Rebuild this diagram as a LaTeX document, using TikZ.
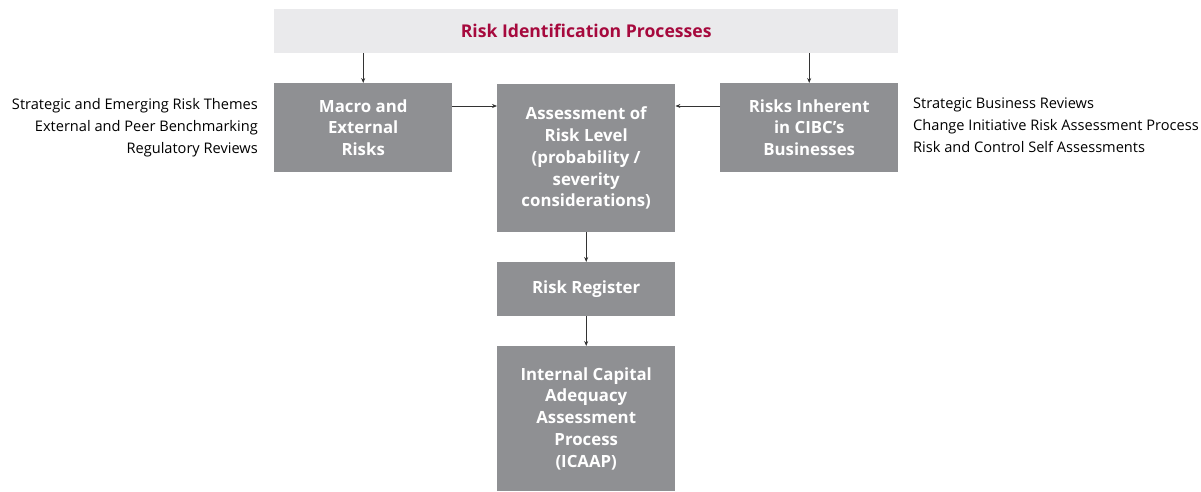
\documentclass[tikz,border=0pt]{standalone}
\usepackage{fontspec}
\setmainfont{Open Sans}
\usetikzlibrary{arrows.meta}
\definecolor{boxgray}{HTML}{8F9093}
\definecolor{bandgray}{HTML}{EAEAEC}
\definecolor{cibcred}{HTML}{A6093D}
\definecolor{linegray}{HTML}{333333}
\begin{document}
\begin{tikzpicture}[x=1pt,y=-1pt,
  box/.style={fill=boxgray,draw=none,text=white,font=\fontsize{16.8}{21.8}\selectfont\bfseries,align=center,inner sep=0pt,anchor=north west},
  side/.style={font=\fontsize{14.6}{22}\selectfont,text=black,inner sep=0pt},
  conn/.style={draw=linegray,line width=0.7pt,-{Stealth[length=5pt,width=4pt]}}]
\useasboundingbox (0,0) rectangle (1201,492);
\node[anchor=north west,fill=bandgray,minimum width=624pt,minimum height=44pt,inner sep=0pt,
  text=cibcred,font=\fontsize{17.6}{20}\selectfont\bfseries] (band) at (274,9) {Risk Identification Processes};
\node[box,minimum width=178pt,minimum height=89pt] (macro) at (274,83) {Macro and\\External\\Risks};
\node[box,minimum width=178pt,minimum height=148pt] (assess) at (497,84) {Assessment of\\Risk Level\\(probability /\\severity\\considerations)};
\node[box,minimum width=178pt,minimum height=89pt] (inher) at (720,83) {Risks Inherent\\in CIBC’s\\Businesses};
\node[box,minimum width=178pt,minimum height=54pt] (reg) at (497,262) {Risk Register};
\node[box,minimum width=178pt,minimum height=145pt] (icaap) at (497,346) {Internal Capital\\Adequacy\\Assessment\\Process\\(ICAAP)};
\node[side,anchor=north east,align=right] (lefttxt) at (258,98) {Strategic and Emerging Risk Themes\\External and Peer Benchmarking\\Regulatory Reviews};
\node[side,anchor=north west,align=left] (righttxt) at (913,98) {Strategic Business Reviews\\Change Initiative Risk Assessment Process\\Risk and Control Self Assessments};
\draw[conn] (band.south -| macro.north) -- (macro.north);
\draw[conn] (band.south -| inher.north) -- (inher.north);
\draw[conn] ([yshift=-23pt]macro.north east) -- ([yshift=-22pt]assess.north west);
\draw[conn] ([yshift=-23pt]inher.north west) -- ([yshift=-22pt]assess.north east);
\draw[conn] (assess.south) -- (reg.north);
\draw[conn] (reg.south) -- (icaap.north);
\end{tikzpicture}
\end{document}
